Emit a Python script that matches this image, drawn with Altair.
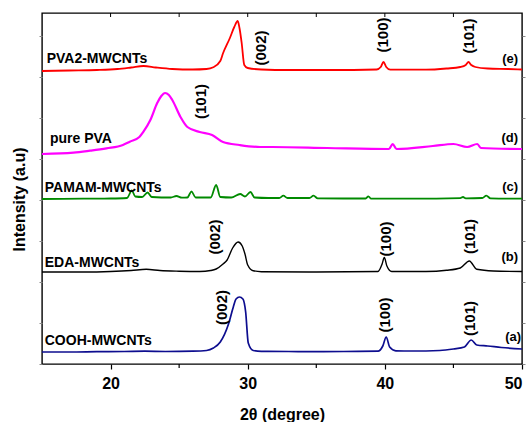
import altair as alt
import pandas as pd

FONT = "Liberation Sans"

series_names = ["COOH-MWCNTs", "EDA-MWCNTs", "PAMAM-MWCNTs", "pure PVA", "PVA2-MWCNTs"]
series_colors = ["#0d0d8f", "#000000", "#008a00", "#ff00ff", "#ff0000"]
series_widths = [1.7, 1.4, 1.8, 2.2, 1.8]
series_offsets = [12, 92, 165, 214, 294]
series_letters = ["(a)", "(b)", "(c)", "(d)", "(e)"]

# (a) COOH-MWCNTs
cooh_x = [15, 17, 19, 21, 22.5, 24, 26, 27.0, 27.5, 28.0, 28.6, 28.95, 29.15, 29.4, 29.65, 29.85, 30.04, 30.4,
          31, 33, 35, 37, 39.5, 39.85, 40.1, 40.35, 40.8, 42, 44, 45, 45.8, 46.3, 46.7, 47.5, 48.5, 50]
cooh_i = [0, 0, 0.3, 0.5, 0.8, 0.5, 0.8, 1.5, 4, 10, 28, 45, 53, 55, 53, 40, 9, 1.5,
          0.7, 0.5, 0.3, 0.5, 0.8, 6, 15, 5, 1.2, 1, 1.5, 3, 5, 12, 7, 6, 4.5, 3]

# (b) EDA-MWCNTs
eda_x = [15, 18, 20, 21.5, 22.6, 23.6, 25, 26.5, 27.3, 27.7, 28.2, 28.5, 28.9, 29.3, 29.6, 29.8, 30.0, 30.4,
         31, 35, 39.5, 39.8, 39.96, 40.15, 40.5, 43, 44.5, 45.5, 46.16, 46.7, 47.9, 50]
eda_i = [0, 0, 0.5, 1.5, 2.7, 1.5, 0.8, 0.5, 1.5, 3, 8, 12, 24, 30, 26, 18, 7, 1.3,
         0.3, 0, 0.5, 8, 14.5, 6, 0.5, 0.5, 1.7, 4, 11, 2.7, 1, 0.5]

# (c) PAMAM-MWCNTs
pamam_x = [15, 18, 20, 21.2, 21.55, 21.8, 22.3, 22.7, 23.0, 24.4, 24.8, 25.2, 25.6, 25.9, 26.2, 27.3, 27.7, 28.0,
           28.8, 29.45, 29.8, 30.2, 30.5, 31.5, 32.3, 32.6, 32.9, 34.5, 34.8, 35.1, 37, 38.6, 38.8, 39.0,
           42, 45.5, 45.7, 45.9, 47.1, 47.4, 47.7, 50]
pamam_i = [0, 0.3, 0.5, 1, 8.5, 2.5, 2, 6.5, 2, 1.5, 3, 1.3, 1.5, 7.5, 1.5, 1.5, 14, 2,
           1.5, 5, 2.5, 7, 1.5, 1, 1, 3.3, 1, 1, 3.3, 0.7, 0.5, 0.5, 2.7, 0.3,
           0.3, 0.8, 2, 0.7, 1, 3.3, 0.7, 0.3]

# (d) pure PVA
pva_x = [15, 17.3, 18.5, 19.7, 20.9, 21.4, 22.1, 22.4, 22.9, 23.4, 23.7, 23.97, 24.25, 24.5, 25.1, 25.6, 26.5,
         27.4, 28.2, 29.4, 30.9, 31.8, 35.8, 40.3, 40.57, 40.85, 43.5, 45.0, 46.0, 46.74, 47.0, 50]
pva_i = [-4, -2.7, -0.7, 1.7, 5, 8.3, 13, 18.3, 30, 47, 54, 57, 55, 50, 33, 23, 18,
         15, 8, 5, 3, 3, 2, 1, 6, 1, 4, 6, 3, 6, 2, 1]

# (e) PVA2-MWCNTs
pva2_x = [15, 17, 19, 20.5, 21.5, 22.4, 23.3, 24.5, 26, 27, 27.49, 28.0, 28.2, 28.7, 29.02, 29.27, 29.4, 29.56,
          29.75, 30.0, 31, 33, 36, 39.4, 39.7, 39.9, 40.1, 40.4, 43, 44.5, 45.5, 45.9, 46.1, 46.3, 46.6,
          47.5, 49, 50]
pva2_i = [-1, -0.5, 0, 1, 2.5, 4, 2.5, 1, 0.5, 1, 2.7, 9, 16.7, 32, 43, 49, 42, 27,
          5, 2, 0.5, 0, 0, 0.5, 3, 8, 3, 0.3, 0.3, 1.5, 3, 5, 8, 5, 3,
          1.5, 1, 0.5]

all_x = [cooh_x, eda_x, pamam_x, pva_x, pva2_x]
all_i = [cooh_i, eda_i, pamam_i, pva_i, pva2_i]

# label placements (data units)
name_x = [15.2, 15.2, 15.2, 15.58, 15.34]
name_y = [19, 97, 172, 221, 301]
letter_x = [49.93, 49.71, 49.71, 49.71, 49.71]
letter_y = [23, 103, 173, 222, 301]

peak_text = ["(002)", "(100)", "(101)", "(002)", "(100)", "(101)", "(101)", "(002)", "(100)", "(101)"]
peak_x = [28.16, 40.0, 46.2, 27.58, 40.05, 46.2, 26.56, 31.0, 39.9, 46.1]
peak_y = [56.5, 49, 45.5, 127, 125, 127.5, 262.5, 316, 329, 328]

x_major = [20, 30, 40, 50]
x_minor = [25, 35, 45]
x_top = [20, 25, 30, 35, 40, 45]
y_ticks = [0, 41, 82, 123, 164, 205, 246, 287, 328]

rows = []
for name, off, xs, ys in zip(series_names, series_offsets, all_x, all_i):
    for xv, iv in zip(xs, ys):
        rows.append({"series": name, "x": xv, "y": iv + off})
df = pd.DataFrame(rows)

names_df = pd.DataFrame({"label": series_names, "x": name_x, "y": name_y})
letters_df = pd.DataFrame({"label": series_letters, "x": letter_x, "y": letter_y})
peaks_df = pd.DataFrame({"label": peak_text, "x": peak_x, "y": peak_y})

xscale = alt.Scale(domain=[15, 50], nice=False, zero=False)
yscale = alt.Scale(domain=[0, 351], nice=False, zero=False)

x_axis = alt.Axis(
    values=x_major, title="2θ (degree)", labelFont=FONT, labelFontSize=16, labelFontWeight="bold",
    labelColor="#000", tickSize=5, tickColor="#000", tickWidth=1.2, labelPadding=6, domain=False,
    grid=False, titleFont=FONT, titleFontSize=16, titleFontWeight="bold", titleColor="#000",
    titleY=55, titleBaseline="alphabetic")

y_axis_left = alt.Axis(
    values=y_ticks, labels=False, tickSize=3, tickColor="#888", domain=False, grid=False,
    title="Intensity (a.u)", titleFont=FONT, titleFontSize=16, titleFontWeight="bold",
    titleColor="#000", titleX=-18, titleY=186, titleBaseline="alphabetic", titleAngle=270)

y_axis_right = alt.Axis(orient="right", values=y_ticks, labels=False, tickSize=3, tickColor="#888",
                        domain=False, grid=False, title=None)


def X():
    return alt.X("x:Q", scale=xscale, axis=x_axis, title="2θ (degree)")


lines = []
for k, (name, col, w) in enumerate(zip(series_names, series_colors, series_widths)):
    lines.append(
        alt.Chart(df[df["series"] == name]).mark_line(color=col, strokeWidth=w, interpolate="monotone")
        .encode(
            x=X(),
            y=alt.Y("y:Q", scale=yscale, axis=y_axis_left if k == 0 else None),
        )
    )

names_layer = alt.Chart(names_df).mark_text(
    font=FONT, fontSize=14, fontWeight="bold", color="#000", align="left", baseline="alphabetic"
).encode(x=X(), y=alt.Y("y:Q", scale=yscale, axis=None), text="label:N")

peaks_layer = alt.Chart(peaks_df).mark_text(
    font=FONT, fontSize=15, fontWeight="bold", color="#000", align="center", baseline="middle", angle=270
).encode(x=X(), y=alt.Y("y:Q", scale=yscale, axis=None), text="label:N")

minor_df = pd.DataFrame({"x": x_minor})
minor_layer = alt.Chart(minor_df).mark_rule(color="#000", strokeWidth=1.2).encode(
    x=X(), y=alt.value(351), y2=alt.value(355))

top_df = pd.DataFrame({"x": x_top})
top_layer = alt.Chart(top_df).mark_rule(color="#000", strokeWidth=1.0).encode(
    x=X(), y=alt.value(0), y2=alt.value(4))

letters_layer = alt.Chart(letters_df).mark_text(
    font=FONT, fontSize=13, fontWeight="bold", color="#000", align="right", baseline="alphabetic"
).encode(
    x=X(),
    y=alt.Y("y:Q", scale=yscale, axis=y_axis_right),
    text="label:N")

chart = alt.layer(
    *lines, names_layer, peaks_layer, minor_layer, top_layer, letters_layer
).resolve_axis(y="independent").properties(
    width=480, height=351,
    autosize=alt.AutoSizeParams(type="none"),
    padding={"left": 42, "top": 13, "right": 10, "bottom": 58},
    background="#ffffff",
).configure_view(stroke="#000", strokeWidth=1.4)

chart.save("out.html", embed_options={"renderer": "svg", "actions": False})
